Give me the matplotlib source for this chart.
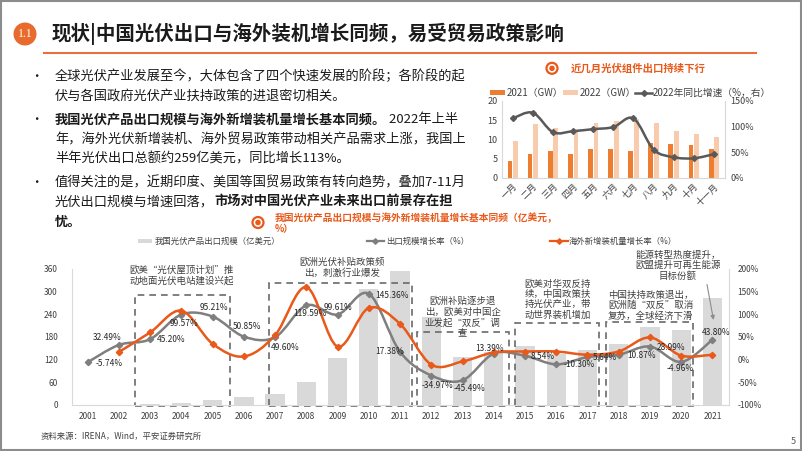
import numpy as np
import matplotlib
matplotlib.use("Agg")
import matplotlib.pyplot as plt
from matplotlib.path import Path
from matplotlib.patches import PathPatch, Rectangle, Ellipse
from matplotlib.lines import Line2D

plt.rcParams['font.family'] = ['Noto Sans CJK SC', 'DejaVu Sans']

# ---- data: bottom chart ----
years = list(range(2001, 2022))
export_value = [0.5, 1, 2, 5, 12, 20, 29, 62, 124, 307, 356, 233, 127, 141,
                156, 135, 145, 161, 207, 198, 284]
export_growth = [-5.74, 32.49, 45.20, 99.57, 95.21, 50.85, 49.60, 119.59, 99.61,
                 145.36, 17.38, -34.97, -45.49, 13.39, 8.54, -10.30, 5.64,
                 10.87, 28.99, -4.96, 43.80]
install_years = list(range(2002, 2022))
install_growth = [17, 60, 108, 35, 7, 54, 160, 29, 114, 79, -11, -4, 16,
                  18, 18, 11, 18, 49, 9, 11]

# ---- data: top-right chart ----
months = ['一月', '二月', '三月', '四月', '五月', '六月', '七月', '八月', '九月', '十月', '十一月']
gw_2021 = [4.4, 6.1, 6.9, 6.2, 7.4, 7.5, 7.0, 9.1, 8.8, 8.4, 7.4]
gw_2022 = [9.6, 13.9, 12.9, 12.2, 14.2, 14.9, 15.2, 14.2, 12.2, 11.4, 10.7]
yoy_2022 = [116, 127, 89, 91, 95, 99, 116, 55, 40, 38, 46]

ORANGE = '#E8591A'
GREY = '#7f7f7f'
TXT = '#404040'

W, H = 802, 451
fig = plt.figure(figsize=(W / 100, H / 100), dpi=100)


def fx(x):
    return x / W


def fy(y):
    return 1 - y / H


def smooth(xs, ys):
    pts = np.column_stack([xs, ys]).astype(float)
    n = len(pts)
    verts = [pts[0]]
    codes = [Path.MOVETO]
    for i in range(n - 1):
        p0 = pts[i - 1] if i > 0 else pts[i]
        p1, p2 = pts[i], pts[i + 1]
        p3 = pts[i + 2] if i + 2 < n else pts[i + 1]
        verts += [p1 + (p2 - p0) / 6, p2 - (p3 - p1) / 6, p2]
        codes += [Path.CURVE4] * 3
    return Path(verts, codes)


def circle(x, y, r, **kw):
    fig.add_artist(Ellipse((fx(x), fy(y)), 2 * r / W, 2 * r / H,
                           transform=fig.transFigure, **kw))


# ---- slide frame, title ----
fig.add_artist(Rectangle((fx(1), fy(450)), fx(800), 449 / H, transform=fig.transFigure,
                         fill=False, ec='#8c8c8c', lw=1.5))
circle(25, 34, 11.5, fc='#E86A2C', ec='none')
fig.text(fx(25), fy(34), '1.1', color='white', fontsize=8.5, ha='center', va='center',
         family='Liberation Serif')
fig.text(fx(52), fy(34), '现状|中国光伏出口与海外装机增长同频，易受贸易政策影响',
         fontsize=14, fontweight='bold', color='#1a1a1a', va='center')
fig.add_artist(Line2D([fx(44), fx(756)], [fy(53), fy(53)], color='#E8703A', lw=1.5,
                      transform=fig.transFigure))

# ---- bullet text ----
renderer = fig.canvas.get_renderer()


def rich_line(y, parts, x=55, size=9.5):
    for s, bold in parts:
        t = fig.text(fx(x), fy(y), s, fontsize=size, va='center', color='#1a1a1a',
                     fontweight='bold' if bold else 'normal')
        x += t.get_window_extent(renderer).width


lines = [
    (76.7, [('全球光伏产业发展至今，大体包含了四个快速发展的阶段；各阶段的起', False)]),
    (96.5, [('伏与各国政府光伏产业扶持政策的进退密切相关。', False)]),
    (119.3, [('我国光伏产品出口规模与海外新增装机量增长基本同频。', True), (' 2022年上半', False)]),
    (139.5, [('年，海外光伏新增装机、海外贸易政策带动相关产品需求上涨，我国上', False)]),
    (158.5, [('半年光伏出口总额约259亿美元，同比增长113%。', False)]),
    (182.7, [('值得关注的是，近期印度、美国等国贸易政策有转向趋势，叠加7-11月', False)]),
    (201.7, [('光伏出口规模与增速回落，', False), ('市场对中国光伏产业未来出口前景存在担', True)]),
    (221.5, [('忧。', True)]),
]
for y, parts in lines:
    rich_line(y, parts)
for y in (76.7, 119.3, 182.7):
    fig.text(fx(36.5), fy(y), '•', fontsize=9, va='center', ha='center', color='#1a1a1a')


def icon(x, y, r):
    circle(x, y, r, fc='white', ec=ORANGE, lw=1.6)
    circle(x, y, r * 0.5, fc=ORANGE, ec='none')


# ---- top-right chart ----
icon(552, 68.3, 5.5)
fig.text(fx(571), fy(68.3), '近几月光伏组件出口持续下行', fontsize=7.5, color=ORANGE,
         fontweight='bold', va='center')

fig.add_artist(Rectangle((fx(490), fy(95)), 15 / W, 5 / H, transform=fig.transFigure,
                         fc='#ED7D31', ec='none'))
fig.text(fx(507), fy(92.7), '2021（GW）', fontsize=7, color=TXT, va='center')
fig.add_artist(Rectangle((fx(563), fy(95)), 15 / W, 5 / H, transform=fig.transFigure,
                         fc='#F8CBAD', ec='none'))
fig.text(fx(580), fy(92.7), '2022（GW）', fontsize=7, color=TXT, va='center')
fig.add_artist(Line2D([fx(635), fx(652)], [fy(92.7)] * 2, color='#595959', lw=1.8,
                      transform=fig.transFigure))
fig.add_artist(Line2D([fx(643.5)], [fy(92.7)], color='#595959', marker='D', ms=3,
                      transform=fig.transFigure))
fig.text(fx(653), fy(92.7), '2022年同比增速（%，右）', fontsize=7, color=TXT, va='center')

axt = fig.add_axes([fx(501.7), fy(177.7), (725 - 501.7) / W, (177.7 - 101) / H])
xm = np.arange(len(months))
axt.bar(xm - 0.14, gw_2021, width=0.24, color='#ED7D31', zorder=2)
axt.bar(xm + 0.14, gw_2022, width=0.24, color='#F8CBAD', zorder=2)
axt.set_xlim(-0.55, len(months) - 0.45)
axt.set_ylim(0, 20)
axt.set_yticks([0, 5, 10, 15, 20])
axt.set_xticks(xm)
axt.set_xticklabels(months, rotation=45, ha='right', rotation_mode='anchor')
axt.tick_params(length=0, labelsize=6.5, colors=TXT, pad=3)
for s in ('top', 'right'):
    axt.spines[s].set_visible(False)
for s in ('left', 'bottom'):
    axt.spines[s].set_color('#d9d9d9')
axt2 = axt.twinx()
axt2.add_patch(PathPatch(smooth(xm, yoy_2022), fill=False, ec='#595959', lw=1.8, zorder=3))
axt2.plot(xm, yoy_2022, ls='none', marker='D', ms=3, color='#595959', zorder=4)
axt2.set_ylim(0, 150)
axt2.set_yticks([0, 50, 100, 150])
axt2.set_yticklabels([f'{v}%' for v in [0, 50, 100, 150]])
axt2.tick_params(length=0, labelsize=6.5, colors=TXT, pad=4)
for s in ('top', 'left', 'bottom'):
    axt2.spines[s].set_visible(False)
axt2.spines['right'].set_color('#d9d9d9')

# ---- bottom chart title & legend ----
icon(258, 222.5, 5.5)
fig.text(fx(275), fy(217.7), '我国光伏产品出口规模与海外新增装机量增长基本同频（亿美元，',
         fontsize=7, color=ORANGE, fontweight='bold', va='center')
fig.text(fx(275), fy(229.5), '%）', fontsize=7, color=ORANGE, fontweight='bold', va='center')

fig.add_artist(Rectangle((fx(138), fy(243)), 14 / W, 4 / H, transform=fig.transFigure,
                         fc='#d9d9d9', ec='none'))
fig.text(fx(155), fy(241), '我国光伏产品出口规模（亿美元）', fontsize=6, color=TXT, va='center')
fig.add_artist(Line2D([fx(366.7), fx(384)], [fy(241)] * 2, color=GREY, lw=1.6,
                      transform=fig.transFigure))
fig.add_artist(Line2D([fx(375.3)], [fy(241)], color=GREY, marker='D', ms=2.8,
                      transform=fig.transFigure))
fig.text(fx(386), fy(241), '出口规模增长率（%）', fontsize=6, color=TXT, va='center')
fig.add_artist(Line2D([fx(550), fx(568)], [fy(241)] * 2, color=ORANGE, lw=1.6,
                      transform=fig.transFigure))
fig.add_artist(Line2D([fx(559)], [fy(241)], color=ORANGE, marker='D', ms=2.8,
                      transform=fig.transFigure))
fig.text(fx(569), fy(241), '海外新增装机量增长率（%）', fontsize=6, color=TXT, va='center')

# ---- bottom chart ----
ax = fig.add_axes([fx(71.7), fy(405), (729 - 71.7) / W, (405 - 269) / H])
ax.bar(years, export_value, width=0.62, color='#d9d9d9', zorder=1)
ax.set_xlim(2000.49, 2021.53)
ax.set_ylim(0, 360)
ax.set_yticks(range(0, 361, 60))
ax.set_xticks(years)
ax.tick_params(length=0, labelsize=6, colors=TXT)
ax.tick_params(axis='x', pad=5)
ax.tick_params(axis='y', pad=10)
for s in ('top', 'right'):
    ax.spines[s].set_visible(False)
for s in ('left', 'bottom'):
    ax.spines[s].set_color('#d9d9d9')

boxes = [(2002.51, 2005.55, 291), (2006.81, 2011.37, 324), (2011.53, 2014.48, 193),
         (2014.67, 2017.38, 218), (2017.59, 2020.38, 220)]
for x0, x1, top in boxes:
    ax.add_patch(Rectangle((x0, -1.5), x1 - x0, top + 1.5, fill=False, ec='#6a6a6a',
                           lw=1.2, ls=(0, (4, 3)), zorder=2, clip_on=False))

notes = [
    (2004.0, 343, '欧美“光伏屋顶计划”推\n动地面光伏电站建设兴起'),
    (2009.13, 364, '欧洲光伏补贴政策频\n出，刺激行业爆发'),
    (2013.0, 233, '欧洲补贴逐步退\n出，欧美对中国企\n业发起“双反”调\n查'),
    (2016.05, 279, '欧美对华双反持\n续，中国政策扶\n持光伏产业，带\n动世界装机增加'),
    (2019.02, 263, '中国扶持政策退出，\n欧洲随“双反”取消\n复苏，全球经济下滑'),
    (2019.89, 369, '能源转型热度提升，\n欧盟提升可再生能源\n目标份额'),
]
for x, y, s in notes:
    ax.text(x, y, s, fontsize=6.8, color=TXT, ha='center', va='center',
            linespacing=1.15, clip_on=False, zorder=5)
ax.annotate('', xy=(2021.05, 218), xytext=(2020.81, 326),
            arrowprops=dict(arrowstyle='-|>', color='#8c8c8c', lw=0.8, mutation_scale=6),
            annotation_clip=False, zorder=5)

ax2 = ax.twinx()
ax2.add_patch(PathPatch(smooth(years, export_growth), fill=False, ec=GREY, lw=1.8, zorder=3))
ax2.plot(years, export_growth, ls='none', marker='D', ms=3.2, color=GREY, zorder=4)
ax2.add_patch(PathPatch(smooth(install_years, install_growth), fill=False, ec=ORANGE,
                        lw=1.8, zorder=3))
ax2.plot(install_years, install_growth, ls='none', marker='D', ms=3.2, color=ORANGE, zorder=4)
ax2.set_ylim(-100, 200)
ax2.set_yticks(range(-100, 201, 50))
ax2.set_yticklabels([f'{v}%' for v in range(-100, 201, 50)])
ax2.tick_params(length=0, labelsize=6, colors=TXT, pad=6)
for s in ('top', 'left', 'bottom'):
    ax2.spines[s].set_visible(False)
ax2.spines['right'].set_color('#d9d9d9')

# label offsets in pixels (dx right, dy down)
offsets = [(21.5, 1), (-12, -7.3), (21, 0), (2.6, 9.3), (1.5, -9), (3, -9.7), (10, 10),
           (4, 8.5), (0, -7.3), (23.6, 1.3), (-10, 0), (6.6, 10), (7.3, 8.4), (-4, -4.7),
           (18, 1), (23, 0), (17, 0), (23, 0.7), (21, 0.6), (-1, 6.6), (4, -7)]
for yr, v, (dx, dy) in zip(years, export_growth, offsets):
    ax2.annotate(f'{v:.2f}%', (yr, v), xytext=(dx * 0.72, -dy * 0.72),
                 textcoords='offset points', ha='center', va='center', fontsize=6,
                 color='#262626', zorder=6)

# ---- footer ----
fig.text(fx(41), fy(436), '资料来源：IRENA，Wind，平安证券研究所', fontsize=6, color=TXT,
         va='center')
fig.text(fx(793), fy(442), '5', fontsize=6.5, color='#595959', va='center', ha='center')

fig.savefig('out.png', dpi=100)
